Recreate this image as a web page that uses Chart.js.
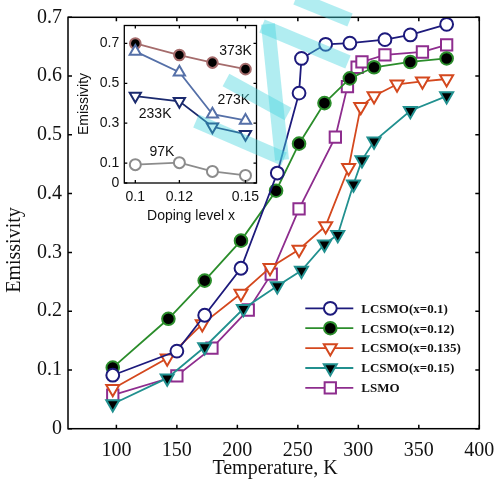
<!DOCTYPE html>
<html>
<head>
<meta charset="utf-8">
<script src="https://cdn.jsdelivr.net/npm/chart.js@4.4.0/dist/chart.umd.min.js"></script>
<style>
  body { margin: 0; background: #fff; }
  #wrap { position: relative; width: 496px; height: 480px; }
  #wrap canvas { position: absolute; }
  #mainChart { left: 0; top: 0; }
  #insetChart { left: 75px; top: 17px; }
  #mark { left: 0; top: 0; pointer-events: none; }
</style>
</head>
<body>
<div id="wrap">
  <canvas id="mainChart" width="496" height="480"></canvas>
  <canvas id="insetChart" width="190" height="210"></canvas>
  <canvas id="mark" width="496" height="480"></canvas>
</div>
<script>
// main plot: temperature (K) vs emissivity
const temps01 = [97, 150, 173, 203, 233, 251, 253, 273, 293, 322, 343, 373];
const emis01 = [0.091, 0.132, 0.193, 0.273, 0.435, 0.571, 0.630, 0.654, 0.656, 0.662, 0.670, 0.688];

const temps012 = [97, 143, 173, 203, 232, 251, 272, 293, 313, 343, 373];
const emis012 = [0.104, 0.187, 0.252, 0.320, 0.405, 0.485, 0.554, 0.596, 0.615, 0.624, 0.630];

const temps0135 = [97, 142, 171, 203, 227, 251, 273, 292, 302, 313, 332, 353, 373];
const emis0135 = [0.068, 0.120, 0.178, 0.230, 0.274, 0.305, 0.345, 0.444, 0.548, 0.566, 0.586, 0.591, 0.595];

const temps015 = [97, 142, 173, 205, 233, 253, 272, 283, 296, 303, 313, 343, 373];
const emis015 = [0.042, 0.086, 0.139, 0.204, 0.243, 0.269, 0.314, 0.330, 0.416, 0.457, 0.489, 0.541, 0.566];

const tempsLSMO = [97, 150, 179, 209, 228, 251, 281, 291, 299, 303, 322, 353, 373];
const emisLSMO = [0.057, 0.090, 0.137, 0.202, 0.263, 0.374, 0.496, 0.582, 0.615, 0.624, 0.636, 0.641, 0.653];

const seriesNames = ['LCSMO(x=0.1)', 'LCSMO(x=0.12)', 'LCSMO(x=0.135)', 'LCSMO(x=0.15)', 'LSMO'];
const tempTicks = [100, 150, 200, 250, 300, 350, 400];
const emisTicks = [0, 0.1, 0.2, 0.3, 0.4, 0.5, 0.6, 0.7];

// inset: doping level vs emissivity
const dopingX = [0.1, 0.12, 0.135, 0.15];
const inset373 = [0.700, 0.642, 0.604, 0.571];
const inset273 = [0.660, 0.556, 0.345, 0.314];
const inset233 = [0.436, 0.410, 0.282, 0.245];
const inset97 = [0.092, 0.102, 0.058, 0.038];
const insetNames = ['373K', '273K', '233K', '97K'];
const insetLabelPos = [[0.1455, 0.663], [0.1447, 0.414], [0.109, 0.347], [0.1121, 0.155]];
const dopingTicks = [0.1, 0.12, 0.15];
const insetEmisTicks = [0, 0.1, 0.3, 0.5, 0.7];

const serif = '"Liberation Serif", "Times New Roman", serif';
const sans = '"Liberation Sans", Arial, sans-serif';

function pairs(xs, ys) {
    return xs.map((x, i) => ({ x: x, y: ys[i] }));
}

function markerPath(ctx, style, x, y, r, rotation) {
    ctx.beginPath();
    if (style === 'circle') {
        ctx.arc(x, y, r, 0, Math.PI * 2);
    } else if (style === 'triangle') {
        let rad = (rotation || 0) * Math.PI / 180;
        ctx.moveTo(x + Math.sin(rad) * r, y - Math.cos(rad) * r);
        rad += 2 * Math.PI / 3;
        ctx.lineTo(x + Math.sin(rad) * r, y - Math.cos(rad) * r);
        rad += 2 * Math.PI / 3;
        ctx.lineTo(x + Math.sin(rad) * r, y - Math.cos(rad) * r);
    } else {
        const s = Math.SQRT1_2 * r;
        ctx.rect(x - s, y - s, 2 * s, 2 * s);
    }
    ctx.closePath();
}

function makeSet(label, xs, ys, color, style, fill, radius, rotation) {
    return {
        label: label,
        data: pairs(xs, ys),
        borderColor: color,
        backgroundColor: color,
        borderWidth: 1.8,
        pointStyle: style,
        pointRadius: radius,
        pointRotation: rotation || 0,
        pointBackgroundColor: fill,
        pointBorderColor: color,
        pointBorderWidth: 2,
        tension: 0
    };
}

// inward tick marks on all four sides + closed frame
function boxTicks(len, width) {
    return {
        id: 'boxTicks',
        afterDraw(chart) {
            const { ctx, chartArea: a, scales } = chart;
            ctx.save();
            ctx.strokeStyle = '#000';
            ctx.lineWidth = width;
            ctx.strokeRect(a.left, a.top, a.right - a.left, a.bottom - a.top);
            ctx.beginPath();
            scales.x.ticks.forEach(t => {
                const px = scales.x.getPixelForValue(t.value);
                ctx.moveTo(px, a.bottom); ctx.lineTo(px, a.bottom - len);
                ctx.moveTo(px, a.top); ctx.lineTo(px, a.top + len);
            });
            scales.y.ticks.forEach(t => {
                const py = scales.y.getPixelForValue(t.value);
                ctx.moveTo(a.left, py); ctx.lineTo(a.left + len, py);
                ctx.moveTo(a.right, py); ctx.lineTo(a.right - len, py);
            });
            ctx.stroke();
            ctx.restore();
        }
    };
}

function axisTitles(xText, yText, font, xPos, yPos) {
    return {
        id: 'axisTitles',
        afterDraw(chart) {
            const ctx = chart.ctx;
            ctx.save();
            ctx.fillStyle = '#111';
            ctx.font = font;
            ctx.textAlign = 'center';
            ctx.textBaseline = 'middle';
            ctx.fillText(xText, xPos[0], xPos[1]);
            ctx.translate(yPos[0], yPos[1]);
            ctx.rotate(-Math.PI / 2);
            ctx.fillText(yText, 0, 0);
            ctx.restore();
        }
    };
}

const mainLegend = {
    id: 'mainLegend',
    afterDraw(chart) {
        const { ctx, chartArea: a } = chart;
        ctx.save();
        ctx.font = 'bold 13px ' + serif;
        ctx.textBaseline = 'middle';
        ctx.fillStyle = '#111';
        chart.data.datasets.forEach((ds, i) => {
            const y = a.top + 291 + i * 19.9;
            const xm = a.right - 149;
            ctx.strokeStyle = ds.borderColor;
            ctx.lineWidth = ds.borderWidth;
            ctx.beginPath();
            ctx.moveTo(a.right - 174, y);
            ctx.lineTo(a.right - 126, y);
            ctx.stroke();
            markerPath(ctx, ds.pointStyle, xm, y, ds.pointRadius, ds.pointRotation);
            ctx.fillStyle = ds.pointBackgroundColor;
            ctx.fill();
            ctx.lineWidth = ds.pointBorderWidth;
            ctx.strokeStyle = ds.pointBorderColor;
            ctx.stroke();
            ctx.fillStyle = '#111';
            ctx.fillText(ds.label, a.right - 118, y + 1);
        });
        ctx.restore();
    }
};

new Chart(document.getElementById('mainChart'), {
    type: 'line',
    data: {
        datasets: [
            makeSet(seriesNames[0], temps01, emis01, '#1d1a7c', 'circle', '#fff', 6.4),
            makeSet(seriesNames[1], temps012, emis012, '#2b8d2b', 'circle', '#000', 6.3),
            makeSet(seriesNames[2], temps0135, emis0135, '#d4481e', 'triangle', '#fff', 7.5, 180),
            makeSet(seriesNames[3], temps015, emis015, '#21908f', 'triangle', '#000', 7.5, 180),
            makeSet(seriesNames[4], tempsLSMO, emisLSMO, '#8e2d8e', 'rect', '#fff', 8)
        ]
    },
    options: {
        responsive: false,
        animation: false,
        layout: { padding: { top: 17.3, right: 16.7, left: 0, bottom: 0 } },
        plugins: { legend: { display: false }, tooltip: { enabled: false } },
        scales: {
            x: {
                type: 'linear',
                min: 60,
                max: 400,
                afterFit: s => { s.height = 51.3; s.paddingLeft = 0; s.paddingRight = 0; },
                afterBuildTicks: s => { s.ticks = tempTicks.map(v => ({ value: v })); },
                grid: { display: false, drawTicks: false },
                border: { display: false },
                ticks: {
                    padding: 10,
                    color: '#111',
                    font: { family: serif, size: 20 },
                    maxRotation: 0,
                    callback: v => String(v)
                }
            },
            y: {
                min: 0,
                max: 0.7,
                afterFit: s => { s.width = 68; s.paddingTop = 0; s.paddingBottom = 0; },
                afterBuildTicks: s => { s.ticks = emisTicks.map(v => ({ value: v })); },
                grid: { display: false, drawTicks: false },
                border: { display: false },
                ticks: {
                    padding: 6,
                    color: '#111',
                    font: { family: serif, size: 20 },
                    callback: v => v === 0 ? '0' : v.toFixed(1)
                }
            }
        }
    },
    plugins: [boxTicks(4, 1.5), axisTitles('Temperature, K', 'Emissivity', '20px ' + serif, [275, 469], [15, 250]), mainLegend]
});

const insetLabels = {
    id: 'insetLabels',
    beforeDraw(chart) {
        const { ctx, chartArea: a } = chart;
        ctx.save();
        ctx.fillStyle = '#fff';
        ctx.fillRect(a.left, a.top, a.right - a.left, a.bottom - a.top);
        ctx.restore();
    },
    afterDraw(chart) {
        const { ctx, scales } = chart;
        ctx.save();
        ctx.font = '14px ' + sans;
        ctx.fillStyle = '#111';
        ctx.textAlign = 'center';
        ctx.textBaseline = 'middle';
        insetNames.forEach((name, i) => {
            ctx.fillText(name, scales.x.getPixelForValue(insetLabelPos[i][0]), scales.y.getPixelForValue(insetLabelPos[i][1]));
        });
        ctx.restore();
    }
};

new Chart(document.getElementById('insetChart'), {
    type: 'line',
    data: {
        datasets: [
            makeSet(insetNames[3], dopingX, inset97, '#8c8c8c', 'circle', '#fff', 5.5),
            makeSet(insetNames[2], dopingX, inset233, '#1b2a6e', 'triangle', '#fff', 6.5, 180),
            makeSet(insetNames[1], dopingX, inset273, '#5570a8', 'triangle', '#fff', 6.5),
            makeSet(insetNames[0], dopingX, inset373, '#a56c6c', 'circle', '#000', 5.3)
        ]
    },
    options: {
        responsive: false,
        animation: false,
        layout: { padding: { top: 8, right: 8.3, left: 0, bottom: 0 } },
        plugins: { legend: { display: false }, tooltip: { enabled: false } },
        scales: {
            x: {
                type: 'linear',
                min: 0.095,
                max: 0.155,
                afterFit: s => { s.height = 44; s.paddingLeft = 0; s.paddingRight = 0; },
                afterBuildTicks: s => { s.ticks = dopingTicks.map(v => ({ value: v })); },
                grid: { display: false, drawTicks: false },
                border: { display: false },
                ticks: {
                    padding: 6,
                    color: '#111',
                    font: { family: sans, size: 14 },
                    maxRotation: 0,
                    callback: v => String(v)
                }
            },
            y: {
                min: 0,
                max: 0.79,
                afterFit: s => { s.width = 49.3; s.paddingTop = 0; s.paddingBottom = 0; },
                afterBuildTicks: s => { s.ticks = insetEmisTicks.map(v => ({ value: v })); },
                grid: { display: false, drawTicks: false },
                border: { display: false },
                ticks: {
                    padding: 5,
                    color: '#111',
                    font: { family: sans, size: 14 },
                    callback: v => v === 0 ? '0' : v.toFixed(1)
                }
            }
        }
    },
    plugins: [insetLabels, boxTicks(3, 1.3), axisTitles('Doping level x', 'Emissivity', '14px ' + sans, [116, 199], [9, 87])]
});

// faint cyan watermark strokes lying over the figure
const mk = document.getElementById('mark').getContext('2d');
mk.strokeStyle = 'rgba(70, 212, 222, 0.42)';
mk.lineWidth = 14;
mk.lineCap = 'butt';
[
    [[196, 121], [284, 159]],
    [[226, 80], [288, 114]],
    [[282, 160], [268, 24]],
    [[262, 26], [348, 62]],
    [[296, -2], [350, 20]]
].forEach(seg => {
    mk.beginPath();
    mk.moveTo(seg[0][0], seg[0][1]);
    mk.lineTo(seg[1][0], seg[1][1]);
    mk.stroke();
});
</script>
</body>
</html>
